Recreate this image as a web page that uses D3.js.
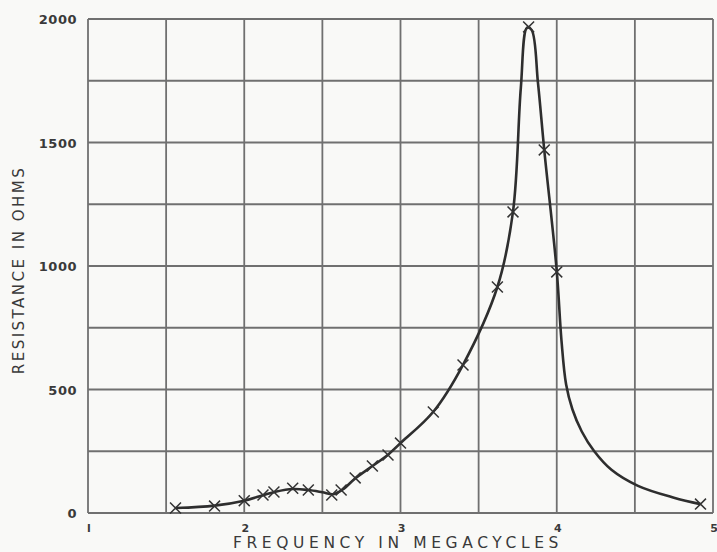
<!DOCTYPE html>
<html>
<head>
<meta charset="utf-8">
<script src="https://cdn.jsdelivr.net/npm/d3@7"></script>
<style>
  html, body { margin: 0; padding: 0; background: #f9f9f7; }
  svg { display: block; }
  text { font-family: "DejaVu Sans", sans-serif; fill: #3a3a3a; }
</style>
</head>
<body>
<div id="chart"></div>
<script>
// measured points (the X marks), frequency in Mc vs resistance in ohms
const markFreq = [1.56, 1.81, 2.0, 2.12, 2.19, 2.31, 2.41, 2.56, 2.62, 2.71, 2.82, 2.92, 3.0, 3.21, 3.40, 3.62, 3.72, 3.82, 3.92, 4.0, 4.92];
const markOhms = [20, 28, 50, 73, 85, 100, 93, 73, 93, 142, 190, 235, 283, 409, 599, 915, 1219, 1968, 1470, 976, 36];

// the drawn smooth curve
const curveFreq = [1.56, 1.81, 2.0, 2.12, 2.2, 2.31, 2.41, 2.5, 2.57, 2.63, 2.71, 2.82, 2.92, 3.0, 3.21, 3.40, 3.62, 3.72, 3.77, 3.81, 3.84, 3.88, 3.92, 4.0, 4.03, 4.06, 4.1, 4.16, 4.24, 4.35, 4.52, 4.75, 4.92];
const curveOhms = [20, 30, 50, 72, 86, 97, 93, 84, 76, 95, 140, 190, 236, 283, 410, 600, 915, 1220, 1720, 1965, 1955, 1740, 1470, 980, 700, 520, 420, 330, 250, 175, 110, 62, 36];

const xTicks = [1, 2, 3, 4, 5];
const xTickLabels = ["l", "2", "3", "4", "5"];
const yTicks = [0, 500, 1000, 1500, 2000];
const yTickLabels = ["0", "500", "1000", "1500", "2000"];

const W = 717, H = 552;
const margin = { top: 19, right: 4, bottom: 39, left: 88 };

const svg = d3.select("#chart").append("svg")
    .attr("width", W)
    .attr("height", H);

const x = d3.scaleLinear().domain([1, 5]).range([margin.left, W - margin.right]);
const y = d3.scaleLinear().domain([0, 2000]).range([H - margin.bottom, margin.top]);

// grid: every 0.5 Mc and every 250 ohms
const grid = svg.append("g")
    .attr("stroke", "#707070")
    .attr("stroke-width", 1.8);

grid.selectAll(".vline")
    .data(d3.range(1, 5.01, 0.5))
    .enter()
    .append("line")
    .attr("x1", d => x(d)).attr("x2", d => x(d))
    .attr("y1", y(0)).attr("y2", y(2000));

grid.selectAll(".hline")
    .data(d3.range(0, 2001, 250))
    .enter()
    .append("line")
    .attr("y1", d => y(d)).attr("y2", d => y(d))
    .attr("x1", x(1)).attr("x2", x(5));

// tick labels
svg.selectAll(".ylab")
    .data(yTicks)
    .enter()
    .append("text")
    .attr("x", margin.left - 11)
    .attr("y", d => y(d) + 5)
    .attr("text-anchor", "end")
    .attr("font-size", "13px")
    .attr("font-weight", "bold")
    .attr("letter-spacing", "0.5px")
    .text((d, i) => yTickLabels[i]);

svg.selectAll(".xlab")
    .data(xTicks)
    .enter()
    .append("text")
    .attr("x", d => x(d) + 1)
    .attr("y", H - 20)
    .attr("text-anchor", "middle")
    .attr("font-size", "11px")
    .attr("font-weight", "bold")
    .text((d, i) => xTickLabels[i]);

// axis titles
svg.append("text")
    .attr("x", 398)
    .attr("y", H - 4)
    .attr("text-anchor", "middle")
    .attr("font-size", "15.5px")
    .attr("letter-spacing", "4.6px")
    .text("FREQUENCY  IN  MEGACYCLES");

svg.append("text")
    .attr("transform", "translate(24,270) rotate(-90)")
    .attr("text-anchor", "middle")
    .attr("font-size", "15px")
    .attr("letter-spacing", "2.5px")
    .text("RESISTANCE  IN  OHMS");

// the curve
const curveData = curveFreq.map((f, i) => [f, curveOhms[i]]);
const line = d3.line()
    .x(d => x(d[0]))
    .y(d => y(d[1]))
    .curve(d3.curveCatmullRom.alpha(0.5));

svg.append("path")
    .datum(curveData)
    .attr("d", line)
    .attr("fill", "none")
    .attr("stroke", "#2e2e2e")
    .attr("stroke-width", 2.6);

// X marks
const marks = markFreq.map((f, i) => [f, markOhms[i]]);
svg.selectAll(".mark")
    .data(marks)
    .enter()
    .append("path")
    .attr("d", d3.symbol(d3.symbolX, 80))
    .attr("transform", d => "translate(" + x(d[0]) + "," + y(d[1]) + ")")
    .attr("fill", "none")
    .attr("stroke", "#333")
    .attr("stroke-width", 1.5);
</script>
</body>
</html>
